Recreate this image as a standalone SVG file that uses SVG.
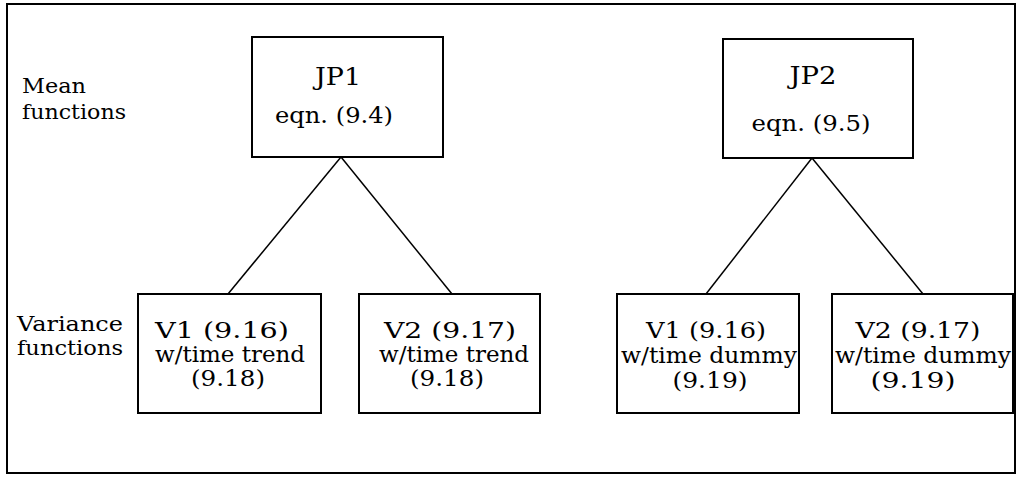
<svg xmlns="http://www.w3.org/2000/svg" width="1017" height="477" viewBox="0 0 1017 477">
<style>
.t{font-family:"DejaVu Serif","Liberation Serif",serif;font-size:23px;fill:#000}
.s{font-size:21px}
.b{font-size:24px}
.m{text-anchor:middle}
.box{fill:#fff;stroke:#000;stroke-width:2}
.ln{stroke:#000;stroke-width:1.5;fill:none}
</style>
<rect x="0" y="0" width="1017" height="477" fill="#fff"/>
<rect id="frame" x="7" y="4" width="1008" height="469" fill="none" stroke="#000" stroke-width="2"/>
<g id="labels">
<text class="t s" x="22" y="93" textLength="64" lengthAdjust="spacingAndGlyphs">Mean</text>
<text class="t s" x="22" y="119" textLength="104" lengthAdjust="spacingAndGlyphs">functions</text>
<text class="t s" x="17" y="331" textLength="106" lengthAdjust="spacingAndGlyphs">Variance</text>
<text class="t s" x="17" y="355" textLength="106" lengthAdjust="spacingAndGlyphs">functions</text>
</g>
<g id="connectors">
<line class="ln" x1="341" y1="157" x2="228" y2="294"/>
<line class="ln" x1="341" y1="157" x2="452" y2="294"/>
<line class="ln" x1="812" y1="158" x2="706" y2="294"/>
<line class="ln" x1="812" y1="158" x2="923" y2="294"/>
</g>
<g id="jp1">
<rect class="box" x="252" y="37" width="191" height="120"/>
<text class="t b m" x="338" y="85" textLength="46" lengthAdjust="spacingAndGlyphs">JP1</text>
<text class="t m" x="334" y="123" textLength="118" lengthAdjust="spacingAndGlyphs">eqn. (9.4)</text>
</g>
<g id="jp2">
<rect class="box" x="723" y="39" width="190" height="119"/>
<text class="t b m" x="813" y="84" textLength="47" lengthAdjust="spacingAndGlyphs">JP2</text>
<text class="t m" x="811" y="131" textLength="119" lengthAdjust="spacingAndGlyphs">eqn. (9.5)</text>
</g>
<g id="v1a">
<rect class="box" x="138" y="294" width="183" height="119"/>
<text class="t m" x="222" y="338" textLength="134" lengthAdjust="spacingAndGlyphs">V1 (9.16)</text>
<text class="t m" x="230" y="362" textLength="150" lengthAdjust="spacingAndGlyphs">w/time trend</text>
<text class="t m" x="228" y="386" textLength="74" lengthAdjust="spacingAndGlyphs">(9.18)</text>
</g>
<g id="v2a">
<rect class="box" x="359" y="294" width="181" height="119"/>
<text class="t m" x="450" y="338" textLength="132" lengthAdjust="spacingAndGlyphs">V2 (9.17)</text>
<text class="t m" x="454" y="362" textLength="150" lengthAdjust="spacingAndGlyphs">w/time trend</text>
<text class="t m" x="447" y="386" textLength="74" lengthAdjust="spacingAndGlyphs">(9.18)</text>
</g>
<g id="v1b">
<rect class="box" x="617" y="294" width="182" height="119"/>
<text class="t m" x="706" y="338" textLength="120" lengthAdjust="spacingAndGlyphs">V1 (9.16)</text>
<text class="t m" x="709" y="363" textLength="176" lengthAdjust="spacingAndGlyphs">w/time dummy</text>
<text class="t m" x="710" y="388" textLength="75" lengthAdjust="spacingAndGlyphs">(9.19)</text>
</g>
<g id="v2b">
<rect class="box" x="832" y="294" width="181" height="119"/>
<text class="t m" x="918" y="338" textLength="125" lengthAdjust="spacingAndGlyphs">V2 (9.17)</text>
<text class="t m" x="923" y="363" textLength="176" lengthAdjust="spacingAndGlyphs">w/time dummy</text>
<text class="t m" x="913" y="388" textLength="85" lengthAdjust="spacingAndGlyphs">(9.19)</text>
</g>
</svg>
